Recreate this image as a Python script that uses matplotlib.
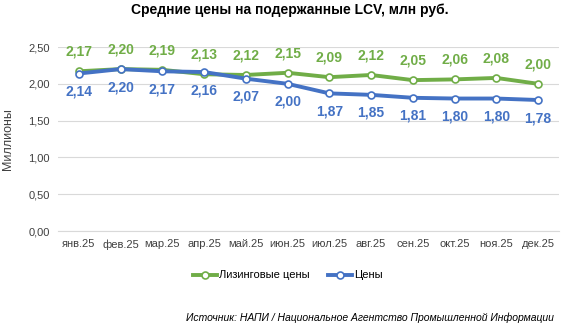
import matplotlib
matplotlib.use("Agg")
import matplotlib.pyplot as plt
from matplotlib.ticker import FuncFormatter

months = ['янв.25', 'фев.25', 'мар.25', 'апр.25', 'май.25', 'июн.25',
          'июл.25', 'авг.25', 'сен.25', 'окт.25', 'ноя.25', 'дек.25']
leasing = [2.17, 2.20, 2.19, 2.13, 2.12, 2.15, 2.09, 2.12, 2.05, 2.06, 2.08, 2.00]
prices = [2.14, 2.20, 2.17, 2.16, 2.07, 2.00, 1.87, 1.85, 1.81, 1.80, 1.80, 1.78]

green = '#70AD47'
blue = '#4472C4'

plt.rcParams['font.family'] = ['Liberation Sans', 'DejaVu Sans']

fig = plt.figure(figsize=(5.68, 3.31), dpi=100)
ax = fig.add_axes([0.102, 0.302, 0.882, 0.556])

x = list(range(len(months)))
ax.plot(x, leasing, color=green, lw=2.8, marker='o', ms=5, mfc='white',
        mec=green, mew=1.2, label='Лизинговые цены', zorder=3)
ax.plot(x, prices, color=blue, lw=2.8, marker='o', ms=5, mfc='white',
        mec=blue, mew=1.2, label='Цены', zorder=4)

fmt = lambda v: f'{v:.2f}'.replace('.', ',')
for i in x:
    ax.annotate(fmt(leasing[i]), (i, leasing[i]), xytext=(0, 9), textcoords='offset points',
                ha='center', va='bottom', color=green, fontsize=10, fontweight='bold')
    ax.annotate(fmt(prices[i]), (i, prices[i]), xytext=(0, -8), textcoords='offset points',
                ha='center', va='top', color=blue, fontsize=10, fontweight='bold')

ax.set_xlim(-0.5, len(months) - 0.5)
ax.set_ylim(0, 2.5)
ax.set_yticks([0, 0.5, 1.0, 1.5, 2.0, 2.5])
ax.yaxis.set_major_formatter(FuncFormatter(lambda v, p: fmt(v)))
ax.set_xticks(x)
ax.set_xticklabels(months)
ax.tick_params(axis='both', length=0, labelsize=8, colors='#404040', pad=6)
ax.grid(axis='y', color='#D9D9D9', lw=0.8)
ax.set_axisbelow(True)
for s in ['top', 'right', 'left']:
    ax.spines[s].set_visible(False)
ax.spines['bottom'].set_color('#D9D9D9')
ax.set_ylabel('Миллионы', fontsize=9, color='#404040', labelpad=10)

fig.text(0.51, 0.97, 'Средние цены на подержанные LCV, млн руб.', ha='center', va='center',
         fontsize=10, fontweight='bold')
fig.legend(loc='center', bbox_to_anchor=(0.507, 0.168), ncol=2, frameon=False, fontsize=8,
           handlelength=2.2, columnspacing=1.6, handletextpad=0.2)
fig.text(0.975, 0.04, 'Источник: НАПИ / Национальное Агентство Промышленной Информации',
         ha='right', va='center', fontsize=7.5, style='italic')

fig.savefig('out.png', dpi=100)
